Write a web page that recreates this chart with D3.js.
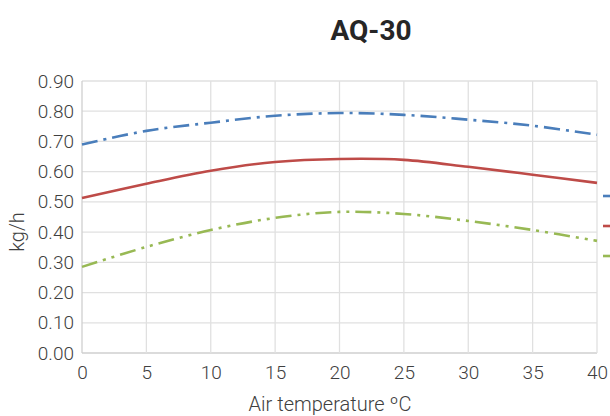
<!DOCTYPE html>
<html>
<head>
<meta charset="utf-8">
<script src="https://cdn.jsdelivr.net/npm/d3@7"></script>
<style>
  body { margin: 0; background: #fff; }
  text { font-family: Roboto, 'DejaVu Sans', sans-serif; }
</style>
</head>
<body>
<svg id="chart" width="610" height="416"></svg>
<script>
var temps = [0, 5, 10, 15, 20, 25, 30, 35, 40]
var blueVals = [0.69, 0.735, 0.762, 0.785, 0.794, 0.788, 0.772, 0.752, 0.722]
var redVals = [0.513, 0.560, 0.603, 0.632, 0.642, 0.639, 0.616, 0.590, 0.563]
var greenVals = [0.285, 0.351, 0.407, 0.447, 0.467, 0.460, 0.437, 0.407, 0.371]
var yTicks = [0, 0.1, 0.2, 0.3, 0.4, 0.5, 0.6, 0.7, 0.8, 0.9]
var xTicks = [0, 5, 10, 15, 20, 25, 30, 35, 40]

var series = [
    { name: 'blue', values: blueVals, color: '#4a7ebb', dash: '16,6,3,6' },
    { name: 'red', values: redVals, color: '#be4b48', dash: null },
    { name: 'green', values: greenVals, color: '#98b954', dash: '16,6,3,6,3,6' }
]

var svg = d3.select('#chart')
var x = d3.scaleLinear().domain([0, 40]).range([82, 597])
var y = d3.scaleLinear().domain([0, 0.9]).range([353, 81])

// gridlines
svg.append('g').selectAll('line.h')
    .data(yTicks)
    .enter()
    .append('line')
    .attr('x1', x(0)).attr('x2', x(40))
    .attr('y1', function(d) { return y(d) })
    .attr('y2', function(d) { return y(d) })
    .style('stroke', function(d) { return d == 0 ? '#cfcfcf' : '#e0e0e0' })
    .style('stroke-width', 1.3)

svg.append('g').selectAll('line.v')
    .data(xTicks)
    .enter()
    .append('line')
    .attr('y1', y(0)).attr('y2', y(0.9))
    .attr('x1', function(d) { return x(d) })
    .attr('x2', function(d) { return x(d) })
    .style('stroke', function(d) { return d == 0 ? '#cfcfcf' : '#e0e0e0' })
    .style('stroke-width', 1.3)

// axes (labels only)
svg.append('g')
    .attr('transform', 'translate(' + x(0) + ',0)')
    .call(d3.axisLeft(y).tickValues(yTicks).tickFormat(d3.format('.2f')).tickSize(0).tickPadding(8))
svg.append('g')
    .attr('transform', 'translate(0,' + y(0) + ')')
    .call(d3.axisBottom(x).tickValues(xTicks).tickSize(0).tickPadding(13))
svg.selectAll('.domain').remove()
svg.selectAll('.tick text')
    .style('font-size', '19px')
    .style('font-weight', 300)
    .style('fill', '#404040')
    .style('font-family', 'Roboto, sans-serif')

// lines
var line = d3.line()
    .x(function(d, i) { return x(temps[i]) })
    .y(function(d) { return y(d) })
    .curve(d3.curveCatmullRom.alpha(0.5))

svg.append('g').selectAll('path')
    .data(series)
    .enter()
    .append('path')
    .attr('d', function(d) { return line(d.values) })
    .style('fill', 'none')
    .style('stroke', function(d) { return d.color })
    .style('stroke-width', 2.6)
    .style('stroke-dasharray', function(d) { return d.dash })

// legend (mostly out of view on the right)
svg.append('g').selectAll('line.leg')
    .data(series)
    .enter()
    .append('line')
    .attr('x1', 603).attr('x2', 630)
    .attr('y1', function(d, i) { return 196 + i * 30 })
    .attr('y2', function(d, i) { return 196 + i * 30 })
    .style('stroke', function(d) { return d.color })
    .style('stroke-width', 2.6)

// title and axis titles
svg.append('text')
    .attr('x', 371).attr('y', 40)
    .attr('text-anchor', 'middle')
    .style('font-size', '28px')
    .style('font-weight', 'bold')
    .style('fill', '#262626')
    .text('AQ-30')

svg.append('text')
    .attr('transform', 'translate(24,232) rotate(-90)')
    .attr('text-anchor', 'middle')
    .style('font-size', '20px')
    .style('font-weight', 300)
    .style('fill', '#404040')
    .text('kg/h')

svg.append('text')
    .attr('x', 330).attr('y', 411)
    .attr('text-anchor', 'middle')
    .style('font-size', '20px')
    .style('font-weight', 300)
    .style('fill', '#404040')
    .text('Air temperature ºC')
</script>
</body>
</html>
